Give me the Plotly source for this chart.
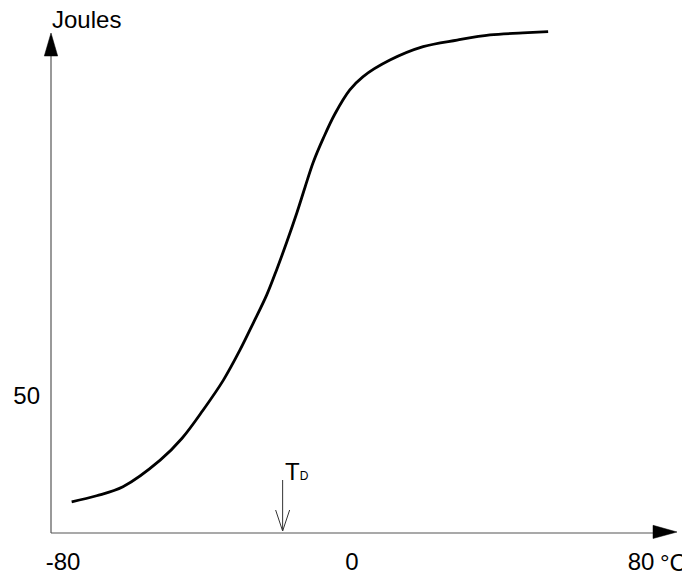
import plotly.graph_objects as go

# ---- data ----
temperature_c = [-77.6, -70.7, -63.4, -53.1, -47.1, -41.2, -35.6, -31.0, -27.3, -23.6,
                 -20.8, -18.1, -15.3, -13.0, -10.7, -7.9, -4.7, -0.6, 3.0, 10.5,
                 19.7, 29.1, 38.2, 47.3, 54.3]
energy_j = [11.4, 13.6, 16.9, 26.6, 34.5, 44.9, 55.8, 66.8, 76.7, 86.9,
            96.3, 106.0, 116.7, 126.2, 135.4, 144.2, 153.0, 161.7, 166.5, 172.6,
            177.5, 179.9, 181.8, 182.5, 183.0]
x_tick_vals = [-80, 0, 80]
x_tick_text = ["-80", "0", "80"]
y_tick_vals = [50]
y_tick_text = ["50"]
t_d = -19.2
x_unit = "°C"
y_title = "Joules"

# ---- layout geometry (page body adds an 8px margin) ----
OFF = 8
W, H = 690 - OFF, 574 - OFF
L, R, T, B = 51 - OFF, 13, 20 - OFF, 41
PW, PH = W - L - R, H - T - B
XR = [-83.32, 89.97]
YR = [0, 187.23]
sx = PW / (XR[1] - XR[0])   # px per degree
sy = PH / (YR[1] - YR[0])   # px per joule


def dx(px):
    return px / sx


def dy(px):
    return px / sy


def pxp(px):  # page pixel x -> paper
    return (px - OFF - L) / PW


def pyp(py):  # page pixel y -> paper
    return (H - B - (py - OFF)) / PH


FONT = "Liberation Sans, Arial, sans-serif"
fig = go.Figure()
fig.add_trace(go.Scatter(x=temperature_c, y=energy_j, mode="lines",
                         line=dict(color="black", width=2.8, shape="spline", smoothing=1.0),
                         hoverinfo="skip", showlegend=False))

axis_col = "#555555"
shapes = [
    # y axis line + arrow
    dict(type="line", xref="paper", yref="paper", x0=pxp(51), y0=pyp(533), x1=pxp(51), y1=pyp(55),
         line=dict(color=axis_col, width=1.2)),
    dict(type="path", xref="paper", yref="paper",
         path=f"M {pxp(51)},{pyp(33)} L {pxp(44.3)},{pyp(56)} L {pxp(57.7)},{pyp(56)} Z",
         fillcolor="black", line=dict(color="black", width=0.5)),
    # x axis line + arrow
    dict(type="line", xref="paper", yref="paper", x0=pxp(51), y0=pyp(533), x1=pxp(654), y1=pyp(533),
         line=dict(color=axis_col, width=1.2)),
    dict(type="path", xref="paper", yref="paper",
         path=f"M {pxp(677)},{pyp(532)} L {pxp(653)},{pyp(525.3)} L {pxp(653)},{pyp(538.5)} Z",
         fillcolor="black", line=dict(color="black", width=0.5)),
    # T_D arrow
    dict(type="line", xref="x", yref="y", x0=t_d, y0=dy(53), x1=t_d, y1=dy(2),
         line=dict(color="#333333", width=1)),
    dict(type="path", xref="x", yref="y",
         path=f"M {t_d-dx(7)},{dy(23)} L {t_d},{dy(2)} L {t_d+dx(7)},{dy(23)}",
         line=dict(color="#333333", width=1)),
]

annotations = [
    dict(x=pxp(50), y=pyp(19.5), xref="paper", yref="paper", text=y_title, showarrow=False,
         xanchor="left", yanchor="middle", font=dict(family=FONT, size=24, color="black")),
    dict(x=pxp(689), y=pyp(562), xref="paper", yref="paper", text=x_unit, showarrow=False,
         xanchor="right", yanchor="middle", font=dict(family=FONT, size=24, color="black")),
    dict(x=t_d, y=dy(62), xref="x", yref="y",
         text='T<span style="font-size:12px">D</span>', showarrow=False,
         xanchor="left", yanchor="middle", font=dict(family=FONT, size=24, color="black")),
]

fig.update_layout(
    width=W, height=H, margin=dict(l=L, r=R, t=T, b=B, pad=0, autoexpand=False),
    paper_bgcolor="white", plot_bgcolor="white",
    shapes=shapes, annotations=annotations,
    font=dict(family=FONT, size=24, color="black"),
    xaxis=dict(range=XR, showgrid=False, zeroline=False, showline=False, automargin=False,
               tickvals=x_tick_vals, ticktext=x_tick_text, ticks="", ticklabelstandoff=12,
               tickfont=dict(family=FONT, size=24, color="black"), fixedrange=True),
    yaxis=dict(range=YR, showgrid=False, zeroline=False, showline=False, automargin=False,
               tickvals=y_tick_vals, ticktext=y_tick_text, ticks="", ticklabelstandoff=10,
               tickfont=dict(family=FONT, size=24, color="black"), fixedrange=True),
)

fig.write_html("out.html")
